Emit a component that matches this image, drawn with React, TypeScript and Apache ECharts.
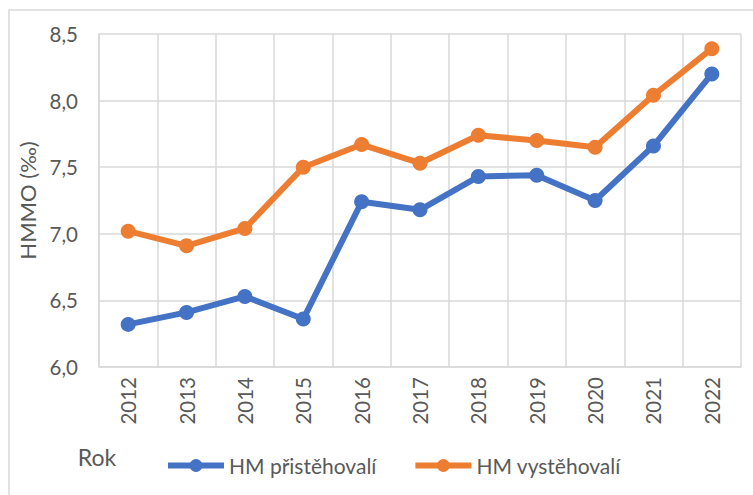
import React, { useEffect, useRef } from "react";
import * as echarts from "echarts";

const years = ["2012", "2013", "2014", "2015", "2016", "2017", "2018", "2019", "2020", "2021", "2022"];
const prist = [6.32, 6.41, 6.53, 6.36, 7.24, 7.18, 7.43, 7.44, 7.25, 7.66, 8.2];
const vyst = [7.02, 6.91, 7.04, 7.5, 7.67, 7.53, 7.74, 7.7, 7.65, 8.04, 8.39];
const seriesNames = ["HM přistěhovalí", "HM vystěhovalí"];
const yAxisName = "HMMO (‰)";
const xAxisName = "Rok";

const FONT = "Lato, 'Open Sans', sans-serif";
const TXT = "#595959";
const GRID = "#d9d9d9";

export default function App() {
  const ref = useRef<HTMLDivElement>(null);
  useEffect(() => {
    if (!ref.current) return;
    const chart = echarts.init(ref.current, undefined, { renderer: "svg" });
    chart.setOption({
      animation: false,
      backgroundColor: "#ffffff",
      textStyle: { fontFamily: FONT },
      grid: { left: 99, top: 34, right: 12, bottom: 128, containLabel: false },
      graphic: [
        {
          type: "rect",
          shape: { x: 9, y: 10, width: 800, height: 600 },
          style: { fill: "none", stroke: GRID, lineWidth: 1.5 },
          silent: true,
          z: -1,
        },
        {
          type: "text",
          x: 97,
          y: 457,
          style: {
            text: xAxisName,
            fill: TXT,
            font: `23px ${FONT}`,
            textAlign: "center",
            textVerticalAlign: "middle",
          },
        },
      ],
      legend: {
        left: 160,
        top: 450,
        itemWidth: 56,
        itemHeight: 16,
        itemGap: 36,
        lineStyle: { width: 6 },
        textStyle: { color: TXT, fontSize: 21, fontFamily: FONT },
        data: seriesNames,
      },
      xAxis: {
        type: "category",
        data: years,
        boundaryGap: true,
        axisLine: { lineStyle: { color: GRID, width: 1.5 } },
        axisTick: { show: false },
        splitLine: { show: true, lineStyle: { color: GRID, width: 1.5 } },
        axisLabel: { rotate: 90, margin: 10, color: TXT, fontSize: 20.5, fontFamily: FONT },
      },
      yAxis: {
        type: "value",
        min: 6,
        max: 8.5,
        interval: 0.5,
        name: yAxisName,
        nameLocation: "middle",
        nameGap: 58,
        nameTextStyle: { color: TXT, fontSize: 22, fontFamily: FONT },
        axisLine: { show: true, lineStyle: { color: GRID, width: 1.5 } },
        axisTick: { show: false },
        splitLine: { show: true, lineStyle: { color: GRID, width: 1.5 } },
        axisLabel: {
          margin: 21,
          color: TXT,
          fontSize: 20.5,
          fontFamily: FONT,
          formatter: (v: number) => v.toFixed(1).replace(".", ","),
        },
      },
      series: [
        {
          name: seriesNames[0],
          type: "line",
          data: prist,
          symbol: "circle",
          symbolSize: 15,
          lineStyle: { width: 6, color: "#4472C4" },
          itemStyle: { color: "#4472C4" },
        },
        {
          name: seriesNames[1],
          type: "line",
          data: vyst,
          symbol: "circle",
          symbolSize: 15,
          lineStyle: { width: 6, color: "#ED7D31" },
          itemStyle: { color: "#ED7D31" },
        },
      ],
    });
    return () => chart.dispose();
  }, []);
  return (
    <div
      ref={ref}
      style={{ position: "fixed", left: 0, top: 0, width: 753, height: 495, background: "#fff" }}
    />
  );
}
